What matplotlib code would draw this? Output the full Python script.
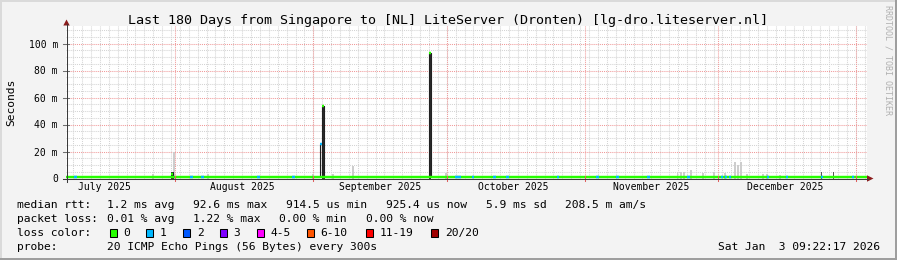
import numpy as np
import pandas as pd
import matplotlib
matplotlib.use('Agg')
import matplotlib.pyplot as plt
import matplotlib.dates as mdates
from matplotlib.patches import Polygon, Rectangle
from matplotlib.lines import Line2D
from matplotlib.transforms import IdentityTransform, blended_transform_factory

# ---------------- data ----------------
start = '2025-07-07 09:22:17'
end = '2026-01-03 09:22:17'
baseline_median_ms = 1.2

spike_dates = ['2025-07-31 06:00', '2025-09-02 18:00', '2025-09-03 06:00', '2025-09-27 06:00']
spike_median_ms = [3.5, 25.7, 54.0, 92.6]
spike_loss = [0, 1, 0, 0]

dark_smoke_dates = ['2025-07-31 06:00', '2025-09-03 06:00', '2025-09-27 06:00']
dark_smoke_top_ms = [4.7, 54.0, 92.6]

thin_dark_smoke_dates = ['2025-12-24 08:00', '2025-12-26 21:00']
thin_dark_smoke_top_ms = [5.0, 4.7]

light_smoke_dates = ['2025-07-27 00:00', '2025-07-31 18:00', '2025-08-08 06:00', '2025-09-01 00:00',
                     '2025-09-05 12:00', '2025-09-10 00:00', '2025-09-30 18:00', '2025-11-21 22:00',
                     '2025-11-22 16:00', '2025-11-23 08:00', '2025-11-24 22:00', '2025-11-27 14:00',
                     '2025-11-30 02:00', '2025-12-02 14:00', '2025-12-04 20:00', '2025-12-05 12:00',
                     '2025-12-06 04:00', '2025-12-07 12:00', '2025-12-11 02:00', '2025-12-12 00:00',
                     '2025-12-14 22:00']
light_smoke_top_ms = [3, 20, 3.5, 3, 3, 9, 4, 5, 4.5, 4.5, 6.5, 4, 4.5, 4, 12, 10, 12, 3, 3, 3, 2.5]

loss1_dates = ['2025-07-09 12:00', '2025-08-04 14:00', '2025-08-07 02:00', '2025-08-19 17:00',
               '2025-08-27 14:00', '2025-10-03 06:00', '2025-10-03 22:00', '2025-10-06 21:00',
               '2025-10-11 19:00', '2025-10-14 17:00', '2025-10-26 00:00', '2025-11-03 22:00',
               '2025-11-08 10:00', '2025-11-15 10:00', '2025-11-24 10:00', '2025-12-01 22:00',
               '2025-12-02 19:00', '2025-12-03 17:00', '2025-12-12 06:00', '2025-12-16 12:00',
               '2025-12-24 10:00', '2025-12-31 08:00']

month_starts = ['2025-08-01', '2025-09-01', '2025-10-01', '2025-11-01', '2025-12-01', '2026-01-01']
month_label_dates = ['2025-07-16', '2025-08-16', '2025-09-16', '2025-10-16', '2025-11-16', '2025-12-16']
month_labels = ['July 2025', 'August 2025', 'September 2025', 'October 2025',
                'November 2025', 'December 2025']

ytick_vals = [0, 20, 40, 60, 80, 100]
ytick_labels = ['0', '20 m', '40 m', '60 m', '80 m', '100 m']

title = 'Last 180 Days from Singapore to [NL] LiteServer (Dronten) [lg-dro.liteserver.nl]'
ylabel = 'Seconds'
rtt_row = ['median rtt:', '1.2 ms avg', '92.6 ms max', '914.5 us min', '925.4 us now',
           '5.9 ms sd', '208.5 m am/s']
loss_row = ['packet loss:', '0.01 % avg', '1.22 % max', '0.00 % min', '0.00 % now']
loss_color_title = 'loss color:'
loss_color_labels = ['0', '1', '2', '3', '4-5', '6-10', '11-19', '20/20']
probe_row = ['probe:', '20 ICMP Echo Pings (56 Bytes) every 300s']
timestamp = 'Sat Jan  3 09:22:17 2026'
watermark = 'RRDTOOL / TOBI OETIKER'

# ---------------- styles ----------------
loss_colors = ['#26ff00', '#00b8ff', '#0059ff', '#7e00ff', '#ff00ff', '#ff5500', '#ff0000', '#a00000']
MONO = 'DejaVu Sans Mono'
W, H = 897, 260
BG = '#f3f3f3'


def num(d):
    if isinstance(d, (list, tuple)):
        return np.array([mdates.date2num(pd.Timestamp(x)) for x in d])
    return mdates.date2num(pd.Timestamp(d))


def fx(x):
    return x / W


def fy(y):
    return 1 - y / H


def D(x, y):
    return (x, H - y)


fig = plt.figure(figsize=(W / 100, H / 100), dpi=100, facecolor=BG)
px_per_ms = 1.35
ax_left, ax_right, ax_top, ax_bottom = 66, 866.5, 26, 178.5
ax = fig.add_axes([fx(ax_left), fy(ax_bottom), (ax_right - ax_left) / W, (ax_bottom - ax_top) / H])
ax.set_facecolor('white')
for s in ax.spines.values():
    s.set_visible(False)

t0, t1 = num(start), num(end)
ax.set_xlim(t0, t1)
ax.set_ylim(0, (ax_bottom - ax_top) / px_per_ms)

# grid
minor_color = '#d4d4d4'
major_color = '#f09a9a'
dash = (0, (1, 1))
for v in np.arange(5, 115, 5):
    if v % 20 == 0:
        continue
    ax.axhline(v, color=minor_color, lw=0.75, ls=dash, zorder=0.5)
for d in pd.date_range('2025-07-09', '2026-01-03', freq='2D'):
    ax.axvline(mdates.date2num(d), color=minor_color, lw=0.75, ls=dash, zorder=0.5)
for v in ytick_vals[1:]:
    ax.axhline(v, color=major_color, lw=0.75, ls=dash, zorder=0.6)
for m in num(month_starts):
    ax.axvline(m, color=major_color, lw=0.75, ls=dash, zorder=0.6)

# smoke
ax.bar(num(light_smoke_dates), light_smoke_top_ms, width=0.4, color='#cdcdcd', zorder=1, lw=0)
ax.bar(num(dark_smoke_dates), dark_smoke_top_ms, width=0.65, color='#2b2b2b', zorder=1.2, lw=0)
ax.bar(num(thin_dark_smoke_dates), thin_dark_smoke_top_ms, width=0.22, color='#555555', zorder=1.2, lw=0)

# median black outline (step)
sp_t = num(spike_dates)
xs, ys = [t0], [baseline_median_ms]
for t, v in zip(sp_t, spike_median_ms):
    xs += [t - 0.25, t + 0.25]
    ys += [v, baseline_median_ms]
xs.append(t1)
ys.append(baseline_median_ms)
ax.step(xs, ys, where='post', color='#202020', lw=0.8, zorder=2)

# median coloured by loss
ax.hlines(baseline_median_ms, t0, t1, color=loss_colors[0], lw=1.75, zorder=3)
l1 = num(loss1_dates)
ax.hlines([baseline_median_ms] * len(l1), l1 - 0.3, l1 + 0.3, color=loss_colors[1], lw=1.75, zorder=3.1)
for t, v, l in zip(sp_t, spike_median_ms, spike_loss):
    ax.hlines(v, t - 0.25, t + 0.25, color=loss_colors[l], lw=1.75, zorder=3.2)

# ticks / labels
ax.set_yticks(ytick_vals)
ax.set_yticklabels(ytick_labels, fontsize=7, family=MONO, color='#000000')
ax.tick_params(axis='y', length=0, pad=5.8)
ax.set_xticks(num(month_label_dates))
ax.set_xticklabels(month_labels, fontsize=7, family=MONO)
ax.tick_params(axis='x', length=0, pad=2.4)

# tick marks
bt = blended_transform_factory(ax.transData, IdentityTransform())
for m in num(month_starts):
    fig.add_artist(Line2D([m, m], [H - 181, H - 176], transform=bt, color='#e06060', lw=0.75))
bty = blended_transform_factory(IdentityTransform(), ax.transData)
for v in ytick_vals[1:]:
    fig.add_artist(Line2D([63, 69], [v, v], transform=bty, color='#707070', lw=0.75))

# axis lines & arrows
idt = IdentityTransform()
fig.add_artist(Line2D([62.5, 868], [H - 178.5, H - 178.5], transform=idt, color='#3a3a3a', lw=0.75))
fig.add_artist(Line2D([66.5, 66.5], [H - 181.5, H - 24], transform=idt, color='#3a3a3a', lw=0.75))
fig.add_artist(Polygon([D(63.3, 25.5), D(69.7, 25.5), D(66.5, 19.5)], closed=True,
                       transform=idt, color='#8b1c1c', lw=0))
fig.add_artist(Polygon([D(867, 175.3), D(867, 181.7), D(873.5, 178.5)], closed=True,
                       transform=idt, color='#8b1c1c', lw=0))

# frame shading
fig.add_artist(Rectangle((0, H - 2), W, 2, transform=idt, color='#dadada', lw=0))
fig.add_artist(Rectangle((0, 0), 2, H, transform=idt, color='#dadada', lw=0))
fig.add_artist(Rectangle((0, 0), W, 2, transform=idt, color='#9e9e9e', lw=0))
fig.add_artist(Rectangle((W - 2, 0), 2, H, transform=idt, color='#9e9e9e', lw=0))

# title & labels
fig.text(fx(448), fy(24), title, ha='center', va='baseline', fontsize=9.6, family=MONO)
fig.text(fx(11), fy(102), ylabel, ha='center', va='center', rotation=90, fontsize=8.1, family=MONO)
fig.text(fx(887.5), fy(60), watermark, ha='center', va='center', rotation=270, fontsize=6,
         family=MONO, color='#b0b0b0')

LF = 8.1
rtt_x = [16.7, 107, 193, 286, 386, 485.7, 565]
for x, s in zip(rtt_x, rtt_row):
    fig.text(fx(x), fy(208.3), s, ha='left', va='baseline', fontsize=LF, family=MONO)
loss_x = [16.7, 107, 193, 279, 366]
for x, s in zip(loss_x, loss_row):
    fig.text(fx(x), fy(222), s, ha='left', va='baseline', fontsize=LF, family=MONO)
fig.text(fx(16.7), fy(236), loss_color_title, ha='left', va='baseline', fontsize=LF, family=MONO)
sq_x = [109, 145.7, 182.7, 219.3, 256, 306.7, 365.3, 430.7]
for x, s, c in zip(sq_x, loss_color_labels, loss_colors):
    fig.add_artist(Rectangle((x + 0.5, H - 236.5), 7, 8, transform=idt, facecolor=c,
                             edgecolor='black', lw=0.75))
    fig.text(fx(x + 14), fy(236), s, ha='left', va='baseline', fontsize=LF, family=MONO)
probe_x = [16.7, 107]
for x, s in zip(probe_x, probe_row):
    fig.text(fx(x), fy(249.7), s, ha='left', va='baseline', fontsize=LF, family=MONO)
fig.text(fx(880), fy(249.7), timestamp, ha='right', va='baseline', fontsize=LF, family=MONO)

fig.savefig('out.png', dpi=100, facecolor=BG)
